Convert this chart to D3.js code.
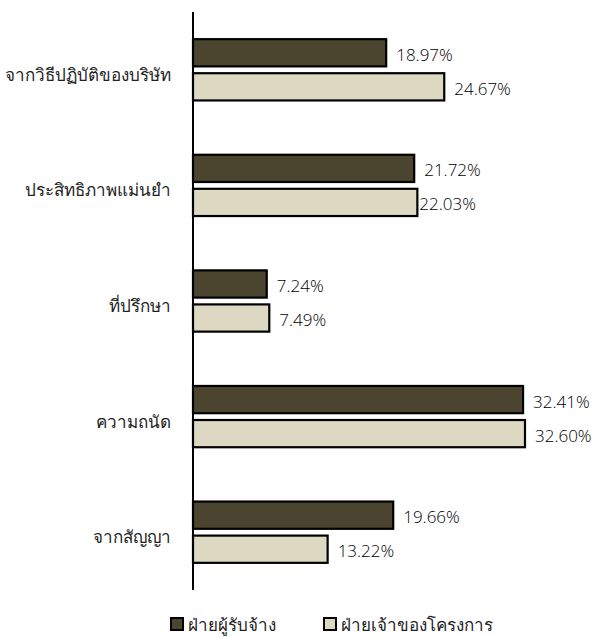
<!DOCTYPE html>
<html><head><meta charset="utf-8">
<script src="https://cdn.jsdelivr.net/npm/d3@7"></script>
<style>
html,body{margin:0;padding:0;background:#fff;}
text{font-family:"Open Sans","Noto Sans","DejaVu Sans",sans-serif;}
text.num{font-weight:300;}
text.th{font-family:"Noto Sans","DejaVu Sans",sans-serif;font-weight:400;}
</style></head>
<body><svg id="c" width="592" height="637"></svg>
<script>
const categories = ["จากวิธีปฏิบัติของบริษัท","ประสิทธิภาพแม่นยำ","ที่ปรึกษา","ความถนัด","จากสัญญา"];
const seriesNames = ["ฝ่ายผู้รับจ้าง","ฝ่ายเจ้าของโครงการ"];
const contractor = [18.97, 21.72, 7.24, 32.41, 19.66];
const owner = [24.67, 22.03, 7.49, 32.60, 13.22];
const colors = ["#4b4530","#ddd8c2"];

const svg = d3.select("#c");
const x0 = 193;
const x = d3.scaleLinear().domain([0, 32.60]).range([x0, 525]);
const y = d3.scaleBand().domain(categories).range([12, 590]).paddingInner(0.47).paddingOuter(0.235);
const ys = d3.scaleBand().domain([0,1]).range([0, y.bandwidth()]).paddingInner(0.2);
const series = [contractor, owner];

categories.forEach((c, i) => {
  const g = svg.append("g");
  series.forEach((vals, s) => {
    const yy = y(c) + ys(s);
    g.append("rect")
      .attr("x", x(0)).attr("y", yy)
      .attr("width", x(vals[i]) - x(0)).attr("height", ys.bandwidth())
      .attr("fill", colors[s]).attr("stroke", "#000").attr("stroke-width", 2.2);
    g.append("text").attr("class", "num")
      .attr("x", x(vals[i]) + (s===1 && i===1 ? 2 : 10))
      .attr("y", yy + ys.bandwidth()/2 + 2)
      .attr("dy", "0.35em")
      .attr("font-size", 17).attr("fill", "#000")
      .text(vals[i].toFixed(2) + "%");
  });
  svg.append("text").attr("class", "th")
    .attr("x", 171).attr("y", y(c) + y.bandwidth()/2 + 5)
    .attr("dy", "0.35em").attr("text-anchor", "end")
    .attr("font-size", 17).attr("fill", "#222")
    .text(c);
});

svg.append("line").attr("x1", x0).attr("x2", x0).attr("y1", 12).attr("y2", 590)
  .attr("stroke", "#000").attr("stroke-width", 2);

const legX = [171, 324];
seriesNames.forEach((n, s) => {
  svg.append("rect").attr("x", legX[s]).attr("y", 618).attr("width", 12).attr("height", 12)
    .attr("fill", colors[s]).attr("stroke", "#000").attr("stroke-width", 2);
  svg.append("text").attr("class", "th").attr("x", legX[s] + 17).attr("y", 625).attr("dy", "0.35em")
    .attr("font-size", 17).attr("fill", "#222").text(n);
});
</script></body></html>
